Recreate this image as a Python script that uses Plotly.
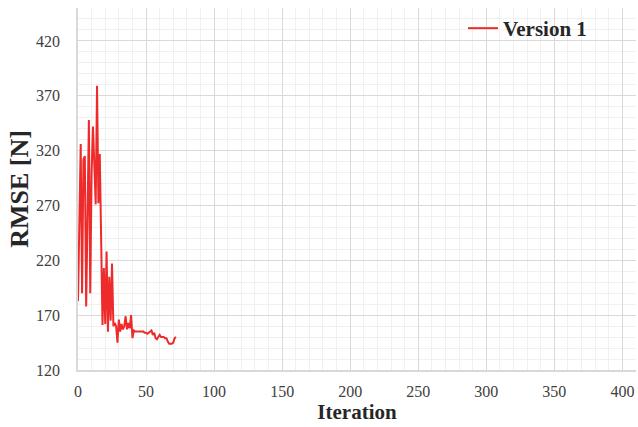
import plotly.graph_objects as go

iterations = list(range(0, 73))
rmse_version1 = [
    183, 250, 326, 190, 312, 315, 178, 260, 348, 190,
    300, 342, 300, 271, 379, 272, 317, 215, 161, 213,
    162, 228, 155, 205, 165, 217, 160, 163, 160, 145,
    166, 155, 162, 157, 160, 169, 157, 163, 158, 170,
    149, 156, 155, 155, 155, 155, 155, 155, 155, 154,
    154, 153, 154, 155, 156, 152, 154, 149, 148, 150,
    152, 150, 150, 150, 149, 149, 146, 144, 144, 144,
    145, 149, 150,
]
x_ticks = [0, 50, 100, 150, 200, 250, 300, 350, 400]
y_ticks = [120, 170, 220, 270, 320, 370, 420]

serif = "Liberation Serif, Times New Roman, serif"

fig = go.Figure()
fig.add_trace(go.Scatter(
    x=iterations, y=rmse_version1, mode="lines", name="Version 1",
    line=dict(color="#ee2a2a", width=2),
))

fig.update_layout(
    width=638, height=427,
    margin=dict(l=78, r=2, t=8, b=57),
    paper_bgcolor="white", plot_bgcolor="white",
    font=dict(family=serif, color="#404040", size=16),
    showlegend=True,
    legend=dict(x=0.69, y=1.0, xanchor="left", yanchor="top",
                bgcolor="rgba(0,0,0,0)",
                font=dict(family=serif, size=21, color="#262626", weight="bold"),
                itemwidth=30),
)
fig.update_xaxes(
    range=[0, 410], tickvals=x_ticks, ticks="", ticklabelstandoff=6,
    showgrid=True, gridcolor="#d9d9d9", gridwidth=1,
    minor=dict(dtick=10, tick0=0, showgrid=True, gridcolor="#f0f0f0", gridwidth=1),
    showline=True, linecolor="#d9d9d9", linewidth=1.5,
    zeroline=False,
    tickfont=dict(family=serif, size=16, color="#404040"),
    title=dict(text="<b>Iteration</b>", font=dict(family=serif, size=21, color="#262626"), standoff=4),
)
fig.update_yaxes(
    range=[120, 450], tickvals=y_ticks, ticks="", ticklabelstandoff=13,
    showgrid=True, gridcolor="#d9d9d9", gridwidth=1,
    minor=dict(dtick=10, tick0=120, showgrid=True, gridcolor="#f0f0f0", gridwidth=1),
    showline=True, linecolor="#d9d9d9", linewidth=1.5,
    zeroline=False,
    tickfont=dict(family=serif, size=16, color="#404040"),
    title=dict(text="<b>RMSE [N]</b>", font=dict(family=serif, size=26, color="#262626"), standoff=0),
)

fig.write_html("out.html")
